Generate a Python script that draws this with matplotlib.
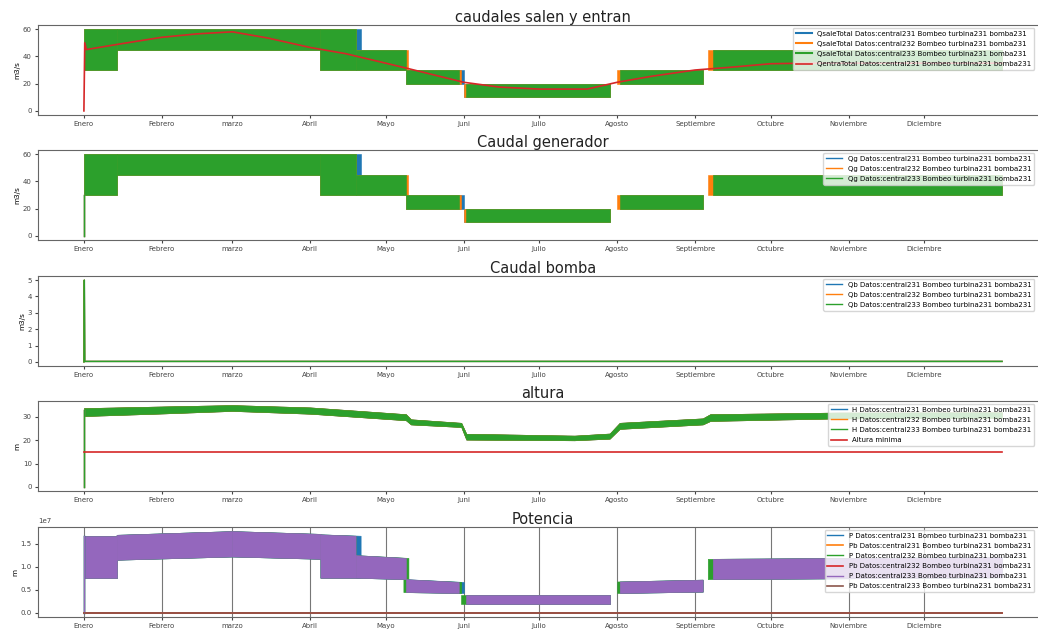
import numpy as np
import pandas as pd
import matplotlib
matplotlib.use("Agg")
import matplotlib.pyplot as plt
from matplotlib.ticker import MultipleLocator

# --- datos ---
meses = ['Enero', 'Febrero', 'marzo', 'Abril', 'Mayo', 'Juni', 'Julio',
         'Agosto', 'Septiembre', 'Octubre', 'Noviembre', 'Diciembre']
fecha_ini = '2021-01-01'
fecha_fin = '2022-01-01'

# caudales: tramos (inicio, fin) con oscilacion entre q_bajo y q_alto
q_bajo = [30, 45, 30, 30, 20, 10, 20, 30]
q_alto = [60, 60, 60, 45, 30, 20, 30, 45]
q_inicio_231 = ['2021-01-01', '2021-01-14', '2021-04-05', '2021-04-19', '2021-05-09', '2021-06-01', '2021-08-02', '2021-09-08']
q_fin_231 = ['2021-01-14', '2021-04-05', '2021-04-21', '2021-05-09', '2021-06-01', '2021-07-29', '2021-09-04', '2022-01-01']
q_inicio_232 = ['2021-01-01', '2021-01-14', '2021-04-05', '2021-04-19', '2021-05-09', '2021-06-01', '2021-08-01', '2021-09-06']
q_fin_232 = ['2021-01-14', '2021-04-05', '2021-04-19', '2021-05-10', '2021-05-31', '2021-07-29', '2021-09-04', '2022-01-01']
q_inicio_233 = ['2021-01-01', '2021-01-14', '2021-04-05', '2021-04-19', '2021-05-09', '2021-06-02', '2021-08-02', '2021-09-08']
q_fin_233 = ['2021-01-14', '2021-04-05', '2021-04-19', '2021-05-09', '2021-05-30', '2021-07-29', '2021-09-04', '2022-01-01']

qentra_fechas = ['2021-01-01 00:00', '2021-01-01 08:00', '2021-01-02', '2021-01-15', '2021-02-01',
                 '2021-02-15', '2021-03-01', '2021-03-15', '2021-04-01', '2021-04-15', '2021-05-01',
                 '2021-05-10', '2021-06-01', '2021-06-15', '2021-07-01', '2021-07-20', '2021-08-01',
                 '2021-08-15', '2021-09-01', '2021-09-15', '2021-10-01', '2021-10-15', '2021-11-01',
                 '2021-12-01', '2022-01-01']
qentra = [0, 50, 45, 49, 54, 56.5, 58, 53.5, 46.5, 42, 35, 31, 21, 17.5, 16, 16, 21,
          25.5, 30, 32, 34.6, 35, 35, 35, 35]

qg_arranque = [0, 30]

# caudal bomba
qb_fechas = ['2021-01-01 00:00', '2021-01-01 04:00', '2021-01-01 08:00', '2022-01-01']
qb = [0, 5, 0.03, 0.03]

# altura: banda entre h_bajo y h_alto
h_fechas = ['2021-01-01', '2021-02-01', '2021-03-01', '2021-04-01', '2021-05-09', '2021-05-11',
            '2021-05-31', '2021-06-02', '2021-07-15', '2021-07-29', '2021-08-02', '2021-09-04',
            '2021-09-07', '2021-10-28', '2022-01-01']
h_bajo = [30.4, 31.5, 32.6, 31.4, 28.6, 26.8, 25.7, 20.3, 20.0, 20.7, 24.9, 26.8, 28.3, 29.4, 29.6]
h_alto = [33.8, 34.5, 35.1, 34.1, 31.2, 29.0, 27.5, 22.8, 22.0, 22.9, 27.5, 29.4, 31.2, 31.9, 32.0]
h_arranque = [0, 33]
altura_minima = [15, 15]

# potencia (x1e7): tramos con valores al inicio y al fin
p_inicio_231 = ['2021-01-01', '2021-01-14', '2021-03-01', '2021-04-05', '2021-04-19', '2021-05-09', '2021-06-02', '2021-08-02', '2021-09-08']
p_fin_231 = ['2021-01-14', '2021-03-01', '2021-04-05', '2021-04-21', '2021-05-09', '2021-06-01', '2021-07-29', '2021-09-04', '2022-01-01']
p_inicio_232 = ['2021-01-01', '2021-01-14', '2021-03-01', '2021-04-05', '2021-04-19', '2021-05-08', '2021-05-31', '2021-08-01', '2021-09-06']
p_fin_232 = ['2021-01-14', '2021-03-01', '2021-04-05', '2021-04-19', '2021-05-10', '2021-05-31', '2021-07-29', '2021-09-04', '2022-01-01']
p_inicio_233 = ['2021-01-01', '2021-01-14', '2021-03-01', '2021-04-05', '2021-04-19', '2021-05-09', '2021-06-02', '2021-08-02', '2021-09-08']
p_fin_233 = ['2021-01-14', '2021-03-01', '2021-04-05', '2021-04-19', '2021-05-09', '2021-05-30', '2021-07-29', '2021-09-04', '2022-01-01']
p_alto_ini = [1.67, 1.69, 1.77, 1.70, 1.25, 0.73, 0.39, 0.68, 1.17]
p_alto_fin = [1.67, 1.77, 1.71, 1.67, 1.19, 0.67, 0.39, 0.72, 1.21]
p_bajo_ini = [0.76, 1.15, 1.22, 0.76, 0.76, 0.45, 0.19, 0.43, 0.73]
p_bajo_fin = [0.76, 1.22, 1.17, 0.76, 0.73, 0.43, 0.19, 0.46, 0.77]
p_arranque = [0, 1.67]
pb = [0, 0]

sufijo = ' Bombeo turbina231 bomba231'
centrales = ['central231', 'central232', 'central233']
colores = plt.rcParams['axes.prop_cycle'].by_key()['color']

plt.rcParams.update({
    'font.size': 5,
    'axes.edgecolor': '#666666',
    'xtick.color': '#444444',
    'ytick.color': '#444444',
    'xtick.major.size': 2.5,
    'ytick.major.size': 2.5,
    'axes.titlecolor': '#222222',
})


def fechas(lista):
    return pd.to_datetime(lista, format='ISO8601')


def bandas_q(ax, inicios, fines, bajos, altos, color):
    for a, b, lo, hi in zip(inicios, fines, bajos, altos):
        ax.fill_between(fechas([a, b]), [lo, lo], [hi, hi], color=color, lw=0.4)


def bandas_p(ax, inicios, fines, color):
    for a, b, hi0, hi1, lo0, lo1 in zip(inicios, fines, p_alto_ini, p_alto_fin, p_bajo_ini, p_bajo_fin):
        ax.fill_between(fechas([a, b]), np.array([lo0, lo1]) * 1e7, np.array([hi0, hi1]) * 1e7,
                        color=color, lw=0.4)


def formato(ax, titulo, ylabel):
    ax.set_title(titulo, fontsize=10.5, pad=2)
    ax.set_ylabel(ylabel, fontsize=5.2, labelpad=1.5)
    ax.set_xticks(pd.date_range('2021-01-01', periods=12, freq='MS'))
    ax.set_xticklabels(meses)
    ax.tick_params(labelsize=5, pad=2)
    ax.margins(x=0.05)
    # el eje sobresale un poco de la figura: la leyenda se ancla dentro del borde
    ax.legend(loc='upper right', bbox_to_anchor=(0.989, 1.0), fontsize=5.0,
              handlelength=2.3, borderaxespad=0.4, labelspacing=0.6, handletextpad=0.8)


fig = plt.figure(figsize=(10.38, 6.30), dpi=100)
izq, ancho, alto = 38 / 1038, 1010 / 1038, 90 / 630
bases = [1 - 115 / 630, 1 - 240 / 630, 1 - 366 / 630, 1 - 491 / 630, 1 - 617 / 630]
axs = [fig.add_axes([izq, b, ancho, alto]) for b in bases]
extremos = fechas([fecha_ini, fecha_fin])
inicio_dia = fechas([fecha_ini, fecha_ini])

# 1) caudales salen y entran
ax = axs[0]
q_tramos = [(q_inicio_231, q_fin_231), (q_inicio_232, q_fin_232), (q_inicio_233, q_fin_233)]
for i, (ini, fin) in enumerate(q_tramos):
    bandas_q(ax, ini, fin, q_bajo, q_alto, colores[i])
    ax.plot([], [], color=colores[i], label='QsaleTotal Datos:' + centrales[i] + sufijo)
ax.plot(fechas(qentra_fechas), qentra, color=colores[3], lw=1.2,
        label='QentraTotal Datos:central231' + sufijo)
formato(ax, 'caudales salen y entran', 'm3/s')

# 2) caudal generador
ax = axs[1]
for i, (ini, fin) in enumerate(q_tramos):
    bandas_q(ax, ini, fin, q_bajo, q_alto, colores[i])
    ax.plot(inicio_dia, qg_arranque, color=colores[i], lw=1,
            label='Qg Datos:' + centrales[i] + sufijo)
formato(ax, 'Caudal generador', 'm3/s')

# 3) caudal bomba
ax = axs[2]
for i in range(3):
    ax.plot(fechas(qb_fechas), qb, color=colores[i], lw=1,
            label='Qb Datos:' + centrales[i] + sufijo)
ax.yaxis.set_major_locator(MultipleLocator(1))
formato(ax, 'Caudal bomba', 'm3/s')

# 4) altura
ax = axs[3]
for i in range(3):
    ax.fill_between(fechas(h_fechas), h_bajo, h_alto, color=colores[i], lw=0.4)
    ax.plot(inicio_dia, h_arranque, color=colores[i], lw=1,
            label='H Datos:' + centrales[i] + sufijo)
ax.plot(extremos, altura_minima, color=colores[3], lw=1.2, label='Altura minima')
formato(ax, 'altura', 'm')

# 5) potencia
ax = axs[4]
p_tramos = [(p_inicio_231, p_fin_231), (p_inicio_232, p_fin_232), (p_inicio_233, p_fin_233)]
for i, (ini, fin) in enumerate(p_tramos):
    c_p, c_pb = colores[2 * i], colores[2 * i + 1]
    bandas_p(ax, ini, fin, c_p)
    ax.plot(inicio_dia, np.array(p_arranque) * 1e7, color=c_p, lw=1,
            label='P Datos:' + centrales[i] + sufijo)
    ax.plot(extremos, pb, color=c_pb, lw=1.2, label='Pb Datos:' + centrales[i] + sufijo)
ax.grid(axis='x', color='#777777', lw=0.8)
ax.set_axisbelow(True)
formato(ax, 'Potencia', 'm')

fig.savefig('out.png', dpi=100)
